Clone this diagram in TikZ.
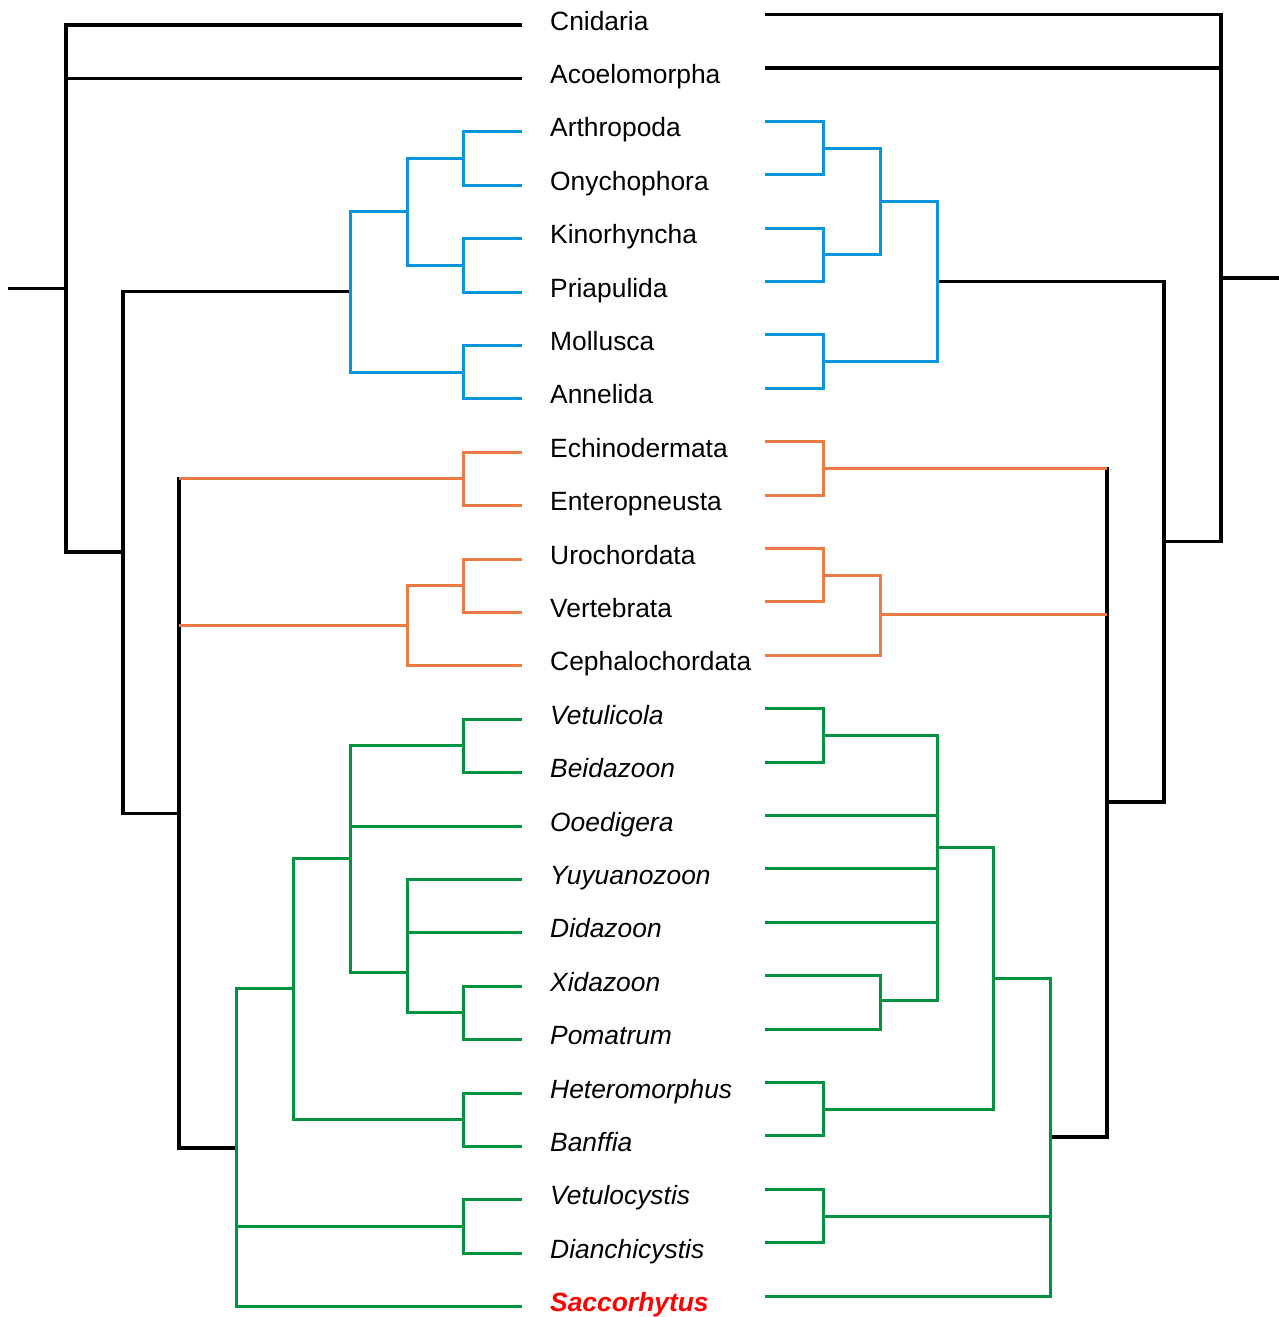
\documentclass[tikz,border=0pt]{standalone}
\usepackage{fontspec}
\setsansfont{Liberation Sans}
\usetikzlibrary{calc}
\definecolor{cladeBlue}{HTML}{0795DE}
\definecolor{cladeOrange}{HTML}{EC7A45}
\definecolor{cladeGreen}{HTML}{00923F}
\definecolor{focusRed}{HTML}{FF0000}
\tikzset{
    x=1pt, y=-1pt,
    font=\sffamily\fontsize{26.4}{30}\selectfont,
    tree_black/.style={
        draw=black,
        line width=3.5pt
    },
    tree_blue/.style={
        draw=cladeBlue,
        line width=3pt
    },
    tree_orange/.style={
        draw=cladeOrange,
        line width=3pt
    },
    tree_green/.style={
        draw=cladeGreen,
        line width=3pt
    },
    taxon/.style={
        anchor=base west,
        inner sep=0pt,
        text=black
    },
    taxon_fossil/.style={
        taxon,
        font=\sffamily\itshape\fontsize{26.4}{30}\selectfont
    },
    taxon_focus/.style={
        taxon,
        text=focusRed,
        font=\sffamily\bfseries\itshape\fontsize{26.4}{30}\selectfont
    }
}
% label in the middle, leaf tips of the left and right trees
\newcommand{\taxon}[4]{
    \coordinate (#1_l) at (522,{25+53.4*#2});
    \coordinate (#1_r) at (765,{14.5+53.4*#2});
    \node[#3] (#1) at (550,{30+53.4*#2}) {#4};
}

\begin{document}
\begin{tikzpicture}
\useasboundingbox (0,0) rectangle (1279,1317);

% --- Taxa ---
\taxon{Cnidaria}{0}{taxon}{Cnidaria}
\taxon{Acoelomorpha}{1}{taxon}{Acoelomorpha}
\taxon{Arthropoda}{2}{taxon}{Arthropoda}
\taxon{Onychophora}{3}{taxon}{Onychophora}
\taxon{Kinorhyncha}{4}{taxon}{Kinorhyncha}
\taxon{Priapulida}{5}{taxon}{Priapulida}
\taxon{Mollusca}{6}{taxon}{Mollusca}
\taxon{Annelida}{7}{taxon}{Annelida}
\taxon{Echinodermata}{8}{taxon}{Echinodermata}
\taxon{Enteropneusta}{9}{taxon}{Enteropneusta}
\taxon{Urochordata}{10}{taxon}{Urochordata}
\taxon{Vertebrata}{11}{taxon}{Vertebrata}
\taxon{Cephalochordata}{12}{taxon}{Cephalochordata}
\taxon{Vetulicola}{13}{taxon_fossil}{Vetulicola}
\taxon{Beidazoon}{14}{taxon_fossil}{Beidazoon}
\taxon{Ooedigera}{15}{taxon_fossil}{Ooedigera}
\taxon{Yuyuanozoon}{16}{taxon_fossil}{Yuyuanozoon}
\taxon{Didazoon}{17}{taxon_fossil}{Didazoon}
\taxon{Xidazoon}{18}{taxon_fossil}{Xidazoon}
\taxon{Pomatrum}{19}{taxon_fossil}{Pomatrum}
\taxon{Heteromorphus}{20}{taxon_fossil}{Heteromorphus}
\taxon{Banffia}{21}{taxon_fossil}{Banffia}
\taxon{Vetulocystis}{22}{taxon_fossil}{Vetulocystis}
\taxon{Dianchicystis}{23}{taxon_fossil}{Dianchicystis}
\taxon{Saccorhytus}{24}{taxon_focus}{Saccorhytus}

% --- Left tree: internal nodes ---
\coordinate (lStub) at (8,288.5);
\coordinate (lRoot) at (66,288.5);
\coordinate (lNephro) at (123,552);
\coordinate (lProto) at (350,291.5);
\coordinate (lEcdy) at (407,211.9);
\coordinate (lPanart) at (463,158.5);
\coordinate (lScali) at (463,265.3);
\coordinate (lSpiral) at (463,372.1);
\coordinate (lDeut) at (179,813.5);
\coordinate (lAmbu) at (463,478.9);
\coordinate (lChord) at (407,625.8);
\coordinate (lOlfa) at (463,585.7);
\coordinate (lGreen) at (236,1147.8);
\coordinate (lG1) at (293,988.9);
\coordinate (lG2) at (350,858.9);
\coordinate (lG3) at (407,972);
\coordinate (lVetBei) at (463,745.9);
\coordinate (lXiPo) at (463,1012.9);
\coordinate (lHetBan) at (463,1119.7);
\coordinate (lCyst) at (463,1226.5);

% --- Right tree: internal nodes ---
\coordinate (rStub) at (1279,278);
\coordinate (rRoot) at (1221,278);
\coordinate (rNephro) at (1164,541.7);
\coordinate (rProto) at (937,281.5);
\coordinate (rEcdy) at (880,201.4);
\coordinate (rPanart) at (823,148);
\coordinate (rScali) at (823,254.8);
\coordinate (rSpiral) at (823,361.6);
\coordinate (rDeut) at (1107,802);
\coordinate (rAmbu) at (823,468.4);
\coordinate (rChord) at (880,614);
\coordinate (rOlfa) at (823,575.2);
\coordinate (rGreen) at (1050,1137);
\coordinate (rG1) at (993,978);
\coordinate (rG2) at (937,847);
\coordinate (rVetBei) at (823,735.4);
\coordinate (rXiPo) at (880,1000);
\coordinate (rHetBan) at (823,1109.2);
\coordinate (rCyst) at (823,1216.2);

% --- Left tree: edges ---
\draw[tree_black] (lStub) -- (lRoot);
\draw[tree_black] (lRoot) |- (Cnidaria_l);
\draw[tree_black] (lRoot) |- (Acoelomorpha_l);
\draw[tree_black] (lRoot) |- (lNephro);
\draw[tree_black] (lNephro) |- (lProto);
\draw[tree_black] (lNephro) |- (lDeut);

\draw[tree_blue] (lProto) |- (lEcdy);
\draw[tree_blue] (lProto) |- (lSpiral);
\draw[tree_blue] (lEcdy) |- (lPanart);
\draw[tree_blue] (lEcdy) |- (lScali);
\draw[tree_blue] (lPanart) |- (Arthropoda_l);
\draw[tree_blue] (lPanart) |- (Onychophora_l);
\draw[tree_blue] (lScali) |- (Kinorhyncha_l);
\draw[tree_blue] (lScali) |- (Priapulida_l);
\draw[tree_blue] (lSpiral) |- (Mollusca_l);
\draw[tree_blue] (lSpiral) |- (Annelida_l);

\draw[tree_black] ([yshift=1.5pt]lDeut |- lAmbu) |- (lGreen);
\draw[tree_orange] (lDeut |- lAmbu) -- (lAmbu);
\draw[tree_orange] (lDeut |- lChord) -- (lChord);
\draw[tree_orange] (lAmbu) |- (Echinodermata_l);
\draw[tree_orange] (lAmbu) |- (Enteropneusta_l);
\draw[tree_orange] (lChord) |- (lOlfa);
\draw[tree_orange] (lChord) |- (Cephalochordata_l);
\draw[tree_orange] (lOlfa) |- (Urochordata_l);
\draw[tree_orange] (lOlfa) |- (Vertebrata_l);

\draw[tree_green] (lGreen) |- (lG1);
\draw[tree_green] (lGreen) |- (lCyst);
\draw[tree_green] (lGreen) |- (Saccorhytus_l);
\draw[tree_green] (lG1) |- (lG2);
\draw[tree_green] (lG1) |- (lHetBan);
\draw[tree_green] (lG2) |- (lVetBei);
\draw[tree_green] (lG2) |- (Ooedigera_l);
\draw[tree_green] (lG2) |- (lG3);
\draw[tree_green] (lG3) |- (Yuyuanozoon_l);
\draw[tree_green] (lG3) |- (Didazoon_l);
\draw[tree_green] (lG3) |- (lXiPo);
\draw[tree_green] (lVetBei) |- (Vetulicola_l);
\draw[tree_green] (lVetBei) |- (Beidazoon_l);
\draw[tree_green] (lXiPo) |- (Xidazoon_l);
\draw[tree_green] (lXiPo) |- (Pomatrum_l);
\draw[tree_green] (lHetBan) |- (Heteromorphus_l);
\draw[tree_green] (lHetBan) |- (Banffia_l);
\draw[tree_green] (lCyst) |- (Vetulocystis_l);
\draw[tree_green] (lCyst) |- (Dianchicystis_l);

% --- Right tree: edges ---
\draw[tree_black] (rStub) -- (rRoot);
\draw[tree_black] (rRoot) |- (Cnidaria_r);
\draw[tree_black] (rRoot) |- (Acoelomorpha_r);
\draw[tree_black] (rRoot) |- (rNephro);
\draw[tree_black] (rNephro) |- (rProto);
\draw[tree_black] (rNephro) |- (rDeut);

\draw[tree_blue] (rProto) |- (rEcdy);
\draw[tree_blue] (rProto) |- (rSpiral);
\draw[tree_blue] (rEcdy) |- (rPanart);
\draw[tree_blue] (rEcdy) |- (rScali);
\draw[tree_blue] (rPanart) |- (Arthropoda_r);
\draw[tree_blue] (rPanart) |- (Onychophora_r);
\draw[tree_blue] (rScali) |- (Kinorhyncha_r);
\draw[tree_blue] (rScali) |- (Priapulida_r);
\draw[tree_blue] (rSpiral) |- (Mollusca_r);
\draw[tree_blue] (rSpiral) |- (Annelida_r);

\draw[tree_black] ([yshift=1.5pt]rDeut |- rAmbu) |- (rGreen);
\draw[tree_orange] (rDeut |- rAmbu) -- (rAmbu);
\draw[tree_orange] (rDeut |- rChord) -- (rChord);
\draw[tree_orange] (rAmbu) |- (Echinodermata_r);
\draw[tree_orange] (rAmbu) |- (Enteropneusta_r);
\draw[tree_orange] (rChord) |- (rOlfa);
\draw[tree_orange] (rChord) |- (Cephalochordata_r);
\draw[tree_orange] (rOlfa) |- (Urochordata_r);
\draw[tree_orange] (rOlfa) |- (Vertebrata_r);

\draw[tree_green] (rGreen) |- (rG1);
\draw[tree_green] (rGreen) |- (rCyst);
\draw[tree_green] (rGreen) |- (Saccorhytus_r);
\draw[tree_green] (rG1) |- (rG2);
\draw[tree_green] (rG1) |- (rHetBan);
\draw[tree_green] (rG2) |- (rVetBei);
\draw[tree_green] (rG2) |- (Ooedigera_r);
\draw[tree_green] (rG2) |- (Yuyuanozoon_r);
\draw[tree_green] (rG2) |- (Didazoon_r);
\draw[tree_green] (rG2) |- (rXiPo);
\draw[tree_green] (rVetBei) |- (Vetulicola_r);
\draw[tree_green] (rVetBei) |- (Beidazoon_r);
\draw[tree_green] (rXiPo) |- (Xidazoon_r);
\draw[tree_green] (rXiPo) |- (Pomatrum_r);
\draw[tree_green] (rHetBan) |- (Heteromorphus_r);
\draw[tree_green] (rHetBan) |- (Banffia_r);
\draw[tree_green] (rCyst) |- (Vetulocystis_r);
\draw[tree_green] (rCyst) |- (Dianchicystis_r);

\end{tikzpicture}
\end{document}
